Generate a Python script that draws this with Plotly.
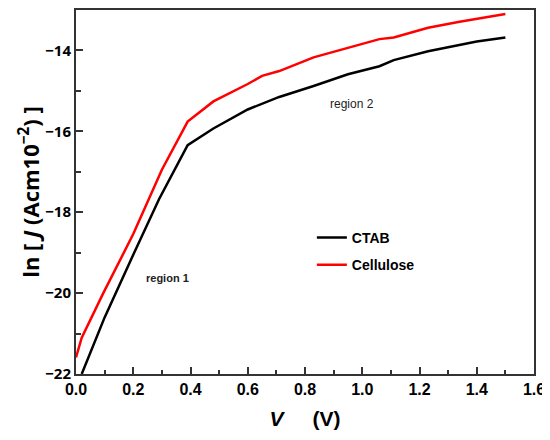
import plotly.graph_objects as go

# values
v_ctab = [0.02, 0.10, 0.20, 0.29, 0.39, 0.48, 0.60, 0.71, 0.83, 0.95, 1.06, 1.11, 1.23, 1.40, 1.50]
j_ctab = [-22.0, -20.6, -19.05, -17.68, -16.34, -15.93, -15.46, -15.15, -14.88, -14.59, -14.39, -14.24, -14.02, -13.78, -13.68]

v_cell = [0.0, 0.02, 0.094, 0.20, 0.30, 0.39, 0.48, 0.60, 0.65, 0.71, 0.83, 0.95, 1.06, 1.11, 1.23, 1.34, 1.50]
j_cell = [-21.59, -21.1, -20.02, -18.54, -16.95, -15.76, -15.26, -14.83, -14.63, -14.51, -14.17, -13.93, -13.72, -13.68, -13.44, -13.29, -13.1]

x_ticks = [0.0, 0.2, 0.4, 0.6, 0.8, 1.0, 1.2, 1.4, 1.6]
y_ticks = [-22, -20, -18, -16, -14]

fig = go.Figure([
    go.Scatter(x=v_ctab, y=j_ctab, name='CTAB', mode='lines', legendgroup='a',
               line=dict(color='black', width=2.5)),
    go.Scatter(x=v_cell, y=j_cell, name='Cellulose', mode='lines', legendgroup='b',
               line=dict(color='#ff0000', width=2.5)),
])

fig.update_xaxes(
    range=[0, 1.6],
    tickvals=x_ticks,
    ticktext=['%.1f' % t for t in x_ticks],
    ticks='inside', ticklen=7, tickwidth=1.5, tickcolor='#333',
    minor=dict(dtick=0.1, ticks='inside', ticklen=4, tickwidth=1.5, tickcolor='#333'),
    showline=True, linecolor='#333', linewidth=2, mirror=True,
    showgrid=False, zeroline=False,
    tickfont=dict(family='Liberation Sans', size=16, color='black', weight='bold'),
    title_text='<i>V</i>     (V)',
    title_font=dict(family='Liberation Sans', size=21, color='black', weight='bold'),
    title_standoff=14,
)
fig.update_yaxes(
    range=[-22, -13],
    tickvals=y_ticks,
    ticktext=['\u2212%d' % abs(t) for t in y_ticks],
    ticks='inside', ticklen=7, tickwidth=1.5, tickcolor='#333',
    minor=dict(dtick=1, ticks='inside', ticklen=5, tickwidth=1.5, tickcolor='#333'),
    showline=True, linecolor='#333', linewidth=2, mirror=True,
    showgrid=False, zeroline=False,
    tickfont=dict(family='Open Sans', size=15, color='black', weight='bold'),
    title_text='ln [ <i>J</i> (Acm10<sup>\u22122</sup>) ]',
    title_font=dict(family='Open Sans', size=22, color='black', weight='bold'),
    title_standoff=0,
)

fig.add_annotation(x=0.32, y=-19.63, text='region 1', showarrow=False,
                   font=dict(family='Liberation Sans', size=11, color='#222', weight='bold'))
fig.add_annotation(x=0.965, y=-15.32, text='region 2', showarrow=False,
                   font=dict(family='Liberation Sans', size=12, color='#222'))

fig.update_layout(
    width=542, height=432,
    margin=dict(l=68, r=16, t=0, b=66),
    plot_bgcolor='white', paper_bgcolor='white',
    legend=dict(x=0.515, y=0.418, xanchor='left', yanchor='top',
                bgcolor='rgba(0,0,0,0)', traceorder='grouped', tracegroupgap=6,
                font=dict(family='Liberation Sans', size=14, color='black', weight='bold')),
)

fig.write_html("out.html")
